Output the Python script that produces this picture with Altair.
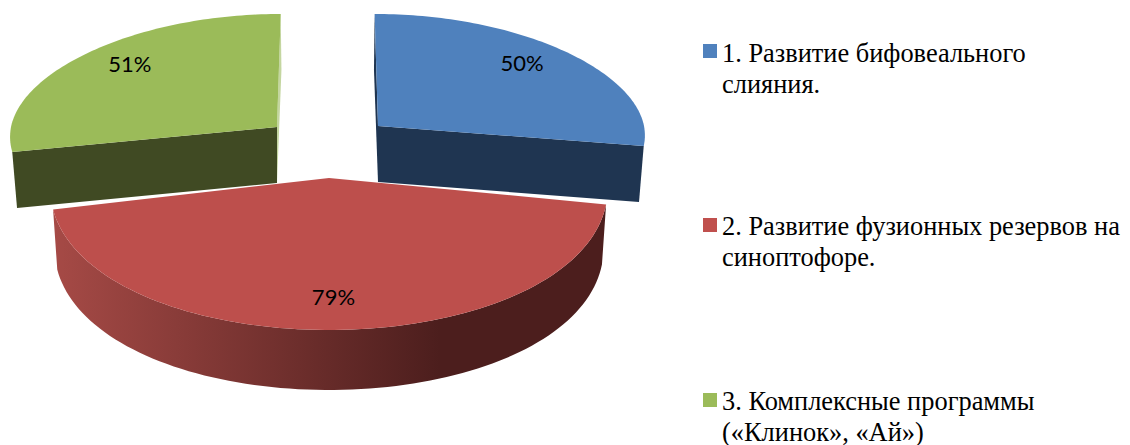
import math
import altair as alt
import pandas as pd

# --- values
categories = ["1", "2", "3"]
percent = [50, 79, 51]
legend_lines = [
    ["1. Развитие бифовеального", "слияния."],
    ["2. Развитие фузионных резервов на", "синоптофоре."],
    ["3. Комплексные программы", "(«Клинок», «Ай»)"],
]
top_colors = ["#4F81BD", "#BD4F4C", "#9BBB59"]
cut_colors = ["#1F3551", "#4C1E1D", "#404A23"]
legend_colors = ["#4F81BD", "#C0504D", "#9BBB59"]

# --- 3-D pie geometry (image pixels)
VX, K, SHRINK = 330.0, 0.07, 0.985
GEOM = [
    dict(cx=378, cy=126, rx=266, back=112, front=115, depth=56),
    dict(cx=329, cy=178, rx=278, back=112, front=152, depth=60),
    dict(cx=277, cy=127, rx=266, back=113, front=120, depth=56),
]
LEGEND_X, LEGEND_SQ = 723, 710
LEGEND_Y = [62, 235, 410]
LEGEND_SQ_Y = [51, 225, 400]
LINE_H = 30.5


def pt(g, deg, down=False):
    t = math.radians(deg)
    X, Y = math.sin(t), -math.cos(t)
    s = 1 + K * Y
    if down:
        s *= SHRINK
    x = VX + (g["cx"] - VX + g["rx"] * X) * s
    y = g["cy"] + (g["front"] if Y > 0 else g["back"]) * Y
    return (x, y + (g["depth"] if down else 0))


def apex(g, down=False):
    return (g["cx"], g["cy"] + (g["depth"] if down else 0))


def arc(g, a, b, down=False, n=90):
    return [pt(g, a + (b - a) * i / n, down) for i in range(n + 1)]


X = alt.X("x:Q", axis=None, scale=alt.Scale(domain=[8, 1122], nice=False, zero=False))
Y = alt.Y("y:Q", axis=None, scale=alt.Scale(domain=[437, 8], nice=False, zero=False))


def poly(points, fill):
    pts = list(points) + [points[0]]
    df = pd.DataFrame({"x": [p[0] for p in pts], "y": [p[1] for p in pts], "i": range(len(pts))})
    return alt.Chart(df).mark_line(fill=fill, strokeOpacity=0, interpolate="linear").encode(
        x=X, y=Y, order=alt.Order("i:Q")
    )


total = sum(percent)
angles = [0]
for v in percent:
    angles.append(angles[-1] + 360 * v / total)

red_grad = alt.Gradient(
    gradient="linear", x1=0, x2=1, y1=0, y2=0,
    stops=[
        alt.GradientStop(color="#A64A46", offset=0),
        alt.GradientStop(color="#4C1E1D", offset=0.70),
        alt.GradientStop(color="#4C1E1D", offset=1),
    ],
)

layers = []
# blue: cut faces, top
g, a, b = GEOM[0], angles[0], angles[1]
layers.append(poly([pt(g, a), apex(g), apex(g, True), pt(g, a, True)], cut_colors[0]))
layers.append(poly([apex(g), pt(g, b), pt(g, b, True), apex(g, True)], cut_colors[0]))
layers.append(poly([apex(g)] + arc(g, a, b), top_colors[0]))
# green: pale sliver of the far cut face, near cut face, top
g, a, b = GEOM[2], angles[2], angles[3]
layers.append(poly([pt(g, b), apex(g), apex(g, True), pt(g, b, True)], "#C4D6A0"))
layers.append(poly([apex(g), pt(g, a), pt(g, a, True), apex(g, True)], cut_colors[2]))
layers.append(poly([apex(g)] + arc(g, a, b), top_colors[2]))
# red: outer wall, top
g, a, b = GEOM[1], angles[1], angles[2]
layers.append(poly(arc(g, a, b) + arc(g, b, a, True), red_grad))
layers.append(poly([apex(g)] + arc(g, a, b), top_colors[1]))

# percent labels
rows = []
for i, (g, v) in enumerate(zip(GEOM, percent)):
    mid = math.radians((angles[i] + angles[i + 1]) / 2)
    sx, sy = math.sin(mid), -math.cos(mid)
    f = 0.79 if sy > 0 else 0.865
    ry = g["front"] if sy > 0 else g["back"]
    rows.append({"x": g["cx"] + 0.71 * g["rx"] * sx + (1 if sy > 0 else -0.5), "y": g["cy"] + f * ry * sy, "t": f"{v}%"})
layers.append(
    alt.Chart(pd.DataFrame(rows))
    .mark_text(font="Lato", fontSize=22, color="#000000", align="center", baseline="middle")
    .encode(x=X, y=Y, text="t:N")
)

# legend
sq = pd.DataFrame({"x": [LEGEND_SQ] * 3, "y": LEGEND_SQ_Y, "c": legend_colors})
layers.append(
    alt.Chart(sq).mark_square(size=196, opacity=1, filled=True).encode(
        x=X, y=Y, color=alt.Color("c:N", scale=None)
    )
)
txt = []
for lines, y0 in zip(legend_lines, LEGEND_Y):
    for j, line in enumerate(lines):
        txt.append({"x": LEGEND_X - 1, "y": y0 + j * LINE_H, "t": line})
layers.append(
    alt.Chart(pd.DataFrame(txt))
    .mark_text(font="Liberation Serif", fontSize=26.4, color="#000000", align="left", baseline="alphabetic")
    .encode(x=X, y=Y, text="t:N")
)

chart = (
    alt.layer(*layers)
    .properties(width=1114, height=429, padding=0, background="#FFFFFF")
    .configure_view(strokeWidth=0)
)
chart.save("out.html", embed_options={"renderer": "svg", "actions": False})
